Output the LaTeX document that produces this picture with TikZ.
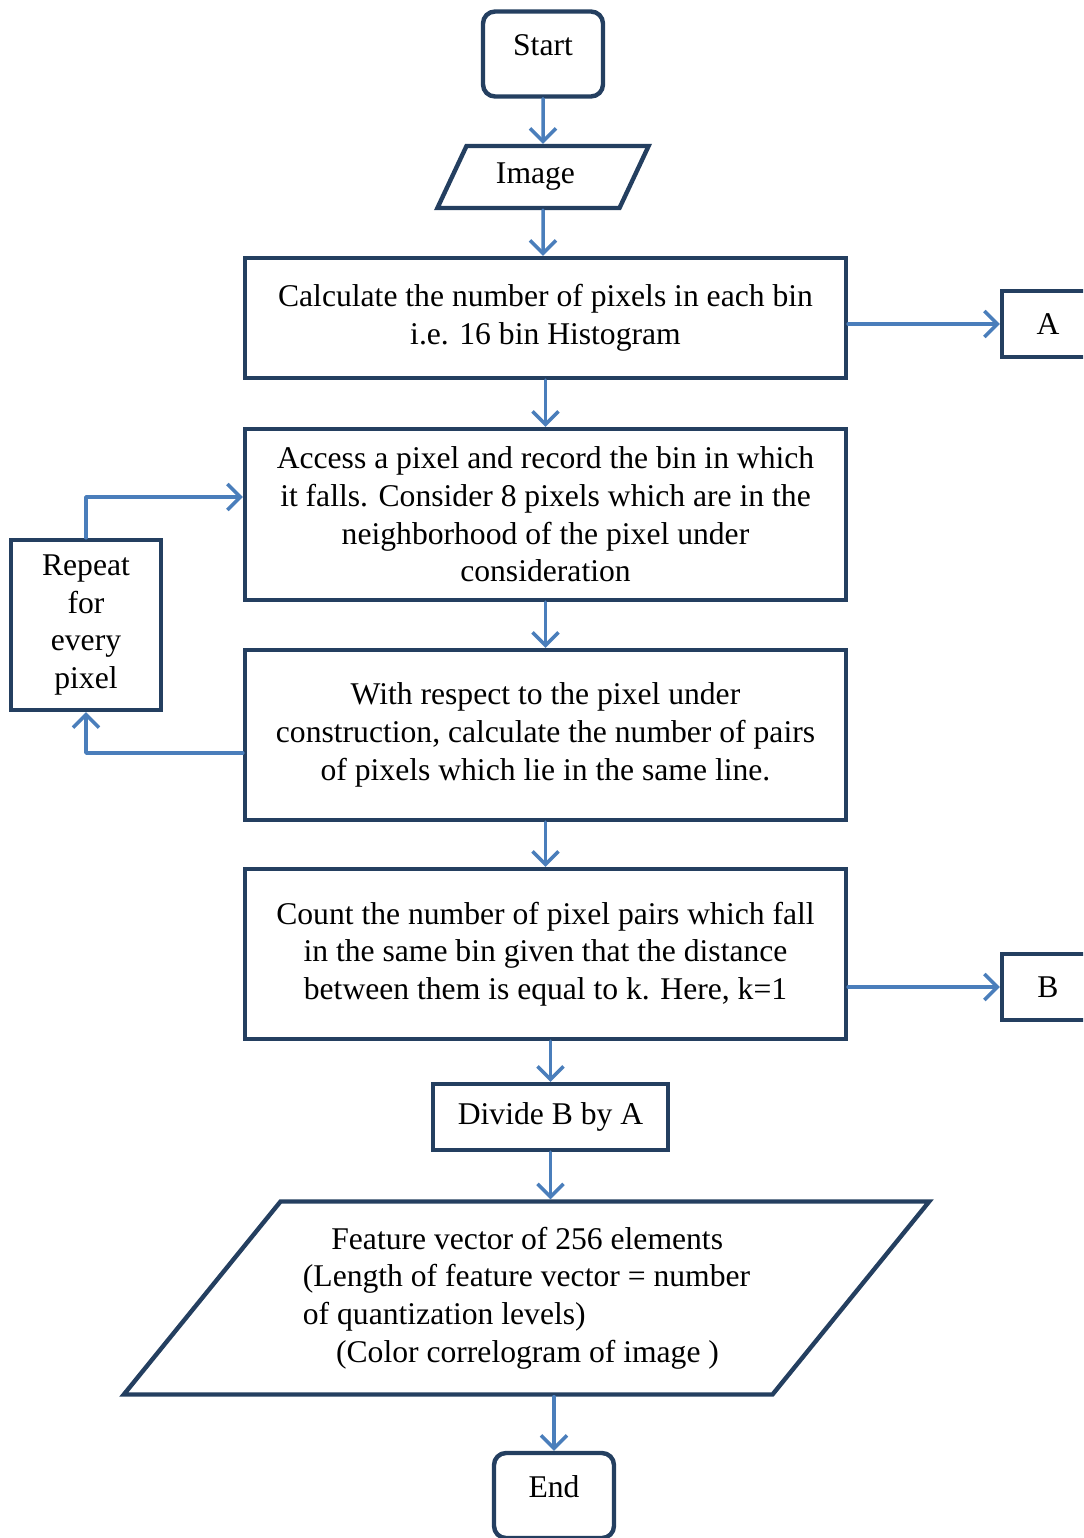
\documentclass[tikz,border=0pt]{standalone}
\usepackage{fontspec}
\setmainfont{Liberation Serif}
\usetikzlibrary{arrows.meta,shapes.geometric}
\definecolor{boxline}{HTML}{243F60}
\definecolor{flowline}{HTML}{4A7EBB}

\begin{document}
\begin{tikzpicture}[line cap=round,line join=round,x=0.02cm,y=-0.02cm,
	every node/.style={font=\fontsize{18}{21.5}\selectfont},
	box/.style={draw=boxline,line width=2.5pt,line join=miter,rectangle,align=center,inner sep=0pt},
	term/.style={box,rounded corners=0.24cm,minimum width=2.4cm,minimum height=1.7cm,text depth=0.36cm},
	io/.style={draw=boxline,line width=2.5pt,line join=miter,trapezium,trapezium stretches=true,inner sep=0pt},
	flow/.style={draw=flowline,line width=2pt,-{Straight Barb[length=2.6mm,width=5.2mm]}}]
		\clip (0,0) rectangle (1083,1538);
		% terminals and data
		\node[term] (start) at (543,54) {Start};
		\node[io,trapezium left angle=57,trapezium right angle=123,minimum width=4.24cm,minimum height=1.24cm] (image) at (543,177) {Image\hspace*{0.3cm}};
		% process boxes
		\node[box,minimum width=12.02cm,minimum height=2.4cm] (calc) at (545.5,318) {Calculate the number of pixels in each bin\\i.e. 16 bin Histogram};
		\node[box,minimum width=12.02cm,minimum height=3.42cm] (access) at (545.5,514.5) {Access a pixel and record the bin in which\\it falls. Consider 8 pixels which are in the\\neighborhood of the pixel under\\consideration};
		\node[box,minimum width=12.02cm,minimum height=3.4cm] (respect) at (545.5,735) {With respect to the pixel under\\construction, calculate the number of pairs\\of pixels which lie in the same line.};
		\node[box,minimum width=12.02cm,minimum height=3.4cm] (count) at (545.5,954) {Count the number of pixel pairs which fall\\in the same bin given that the distance\\between them is equal to k. Here, k=1};
		\node[box,minimum width=4.7cm,minimum height=1.32cm] (divide) at (550.5,1117) {Divide B by A};
		\node[box,minimum width=3cm,minimum height=3.4cm] (repeat) at (86,625) {Repeat\\for\\every\\pixel};
		\node[box,minimum width=1.84cm,minimum height=1.32cm] (A) at (1048,324) {A};
		\node[box,minimum width=1.84cm,minimum height=1.32cm] (B) at (1048,987) {B};
		\node[io,trapezium left angle=45,trapezium right angle=135,minimum width=16.14cm,minimum height=3.86cm,align=left] (feat) at (526.5,1298) {\hspace*{0.9em}Feature vector of 256 elements\\(Length of feature vector = number\\of quantization levels)\\\hspace*{1.05em}(Color correlogram of image )\hspace*{0.2cm}};
		\node[term] (end) at (554,1495.5) {End};
		% connectors
		\draw[flow] (start) -- (image);
		\draw[flow] (image) -- (image |- calc.north);
		\draw[flow] (calc) -- (access);
		\draw[flow] (access) -- (respect);
		\draw[flow] (respect) -- (count);
		\draw[flow] (count.south -| divide) -- (divide);
		\draw[flow] (divide) -- (divide |- feat.north);
		\draw[flow] (feat.south -| end) -- (end);
		\draw[flow] (calc.east |- A) -- (A);
		\draw[flow] (count.east |- B) -- (B);
		\draw[flow] ([yshift=-0.36cm]respect.west) -| (repeat.south);
		\draw[flow] (repeat.north) |- ([yshift=0.35cm]access.west);
\end{tikzpicture}
\end{document}
